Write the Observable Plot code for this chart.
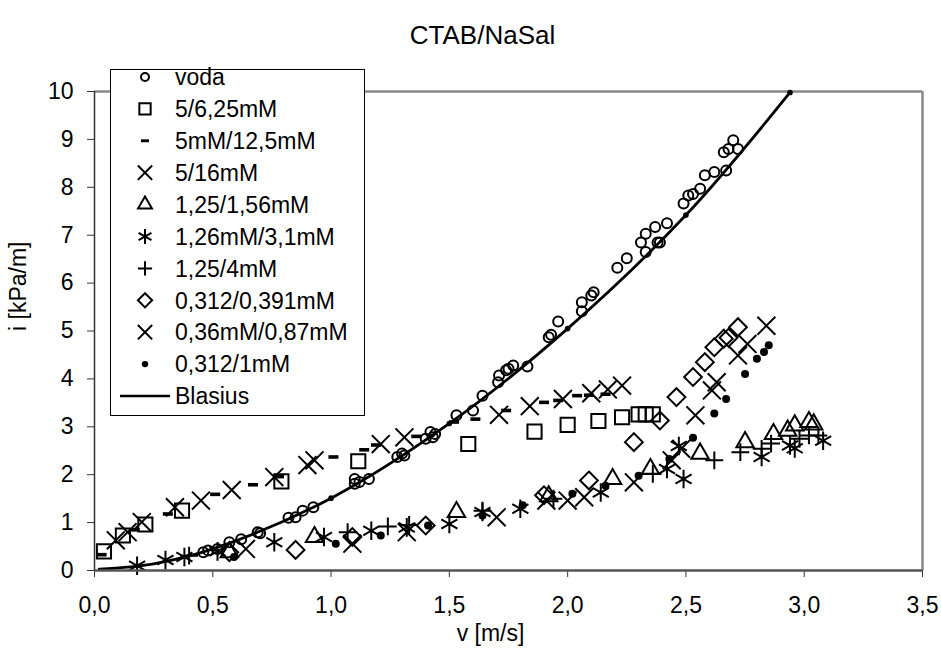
<!DOCTYPE html>
<html><head><meta charset="utf-8">
<script src="https://cdn.jsdelivr.net/npm/d3@7"></script>
<script src="https://cdn.jsdelivr.net/npm/@observablehq/plot@0.6"></script>
<style>
body{margin:0;background:#fff;}
#wrap{position:relative;width:941px;height:649px;font-family:"Liberation Sans",Arial,sans-serif;}
#wrap svg{position:absolute;left:0;top:0;}
</style></head><body><div id="wrap"></div>
<script>
// ---- data ----
const xTicks = [0, 0.5, 1, 1.5, 2, 2.5, 3, 3.5];
const yTicks = [0, 1, 2, 3, 4, 5, 6, 7, 8, 9, 10];

const vodaV = [0.46,0.48,0.52,0.57,0.62,0.69,0.70,0.82,0.85,0.88,0.925,1.10,1.10,1.12,1.16,1.28,1.30,1.31,1.40,1.42,1.43,1.44,1.53,1.60,1.64,1.706,1.71,1.74,1.75,1.77,1.83,1.92,1.93,1.96,2.06,2.06,2.10,2.11,2.21,2.25,2.31,2.33,2.33,2.37,2.38,2.39,2.42,2.49,2.51,2.53,2.56,2.58,2.62,2.67,2.66,2.68,2.70,2.72];
const vodaI = [0.38,0.42,0.45,0.59,0.65,0.80,0.78,1.10,1.11,1.25,1.32,1.91,1.81,1.85,1.91,2.37,2.44,2.40,2.75,2.89,2.78,2.85,3.24,3.34,3.65,3.93,4.07,4.18,4.21,4.28,4.26,4.87,4.92,5.20,5.41,5.60,5.74,5.81,6.32,6.52,6.85,7.03,6.65,7.17,6.85,6.85,7.25,7.66,7.83,7.86,7.97,8.25,8.32,8.35,8.73,8.80,8.98,8.80];

const s625V = [0.04,0.12,0.215,0.37,0.79,1.115,1.58,1.86,2.0,2.13,2.23,2.30,2.33,2.36];
const s625I = [0.40,0.73,0.96,1.25,1.86,2.28,2.64,2.90,3.04,3.12,3.20,3.26,3.26,3.26];

const s125V = [0.03,0.17,0.31,0.51,0.67,0.78,1.01,1.14,1.19,1.36,1.52,1.61,1.74,1.90,1.96,2.04,2.09,2.16];
const s125I = [0.33,0.85,1.18,1.59,1.79,1.96,2.37,2.52,2.62,2.80,3.10,3.16,3.34,3.51,3.55,3.65,3.66,3.68];

const s16V = [0.09,0.14,0.20,0.34,0.45,0.58,0.76,0.90,0.93,1.21,1.31,1.71,1.84,1.98,2.10,2.17,2.23];
const s16I = [0.63,0.80,1.01,1.32,1.46,1.68,1.95,2.20,2.30,2.64,2.78,3.25,3.43,3.58,3.70,3.78,3.86];

const s156V = [0.57,0.93,1.53,1.92,2.19,2.35,2.56,2.75,2.87,2.93,2.96,3.02,3.04];
const s156I = [0.38,0.70,1.22,1.55,1.91,2.12,2.44,2.68,2.85,2.92,3.03,3.10,3.05];

const s31V = [0.18,0.30,0.38,0.52,0.76,0.97,1.17,1.32,1.50,1.64,1.80,2.14,2.42,2.47,2.49,2.82,2.94,2.96,3.08];
const s31I = [0.10,0.22,0.28,0.40,0.59,0.70,0.83,0.90,0.97,1.22,1.29,1.63,2.12,2.60,1.91,2.37,2.61,2.55,2.71];

const s4V = [0.40,1.07,1.24,1.33,1.64,1.94,2.36,2.62,2.73,2.82,2.86,2.98,3.02,3.06];
const s4I = [0.31,0.80,0.92,0.95,1.25,1.50,2.02,2.30,2.47,2.54,2.65,2.75,2.82,2.82];

const s391V = [0.57,0.85,1.09,1.40,1.90,2.09,2.28,2.39,2.46,2.53,2.58,2.62,2.66,2.68,2.72];
const s391I = [0.38,0.43,0.70,0.94,1.57,1.88,2.68,3.13,3.62,4.04,4.35,4.66,4.84,4.86,5.08];

const s087V = [0.64,1.09,1.32,1.70,1.91,2.00,2.07,2.28,2.44,2.48,2.54,2.61,2.63,2.72,2.76,2.84];
const s087I = [0.45,0.56,0.80,1.11,1.46,1.46,1.53,1.84,2.30,2.54,3.24,3.76,3.93,4.49,4.73,5.11];

const s1V = [0.59,1.02,1.21,1.41,1.64,1.81,2.02,2.16,2.30,2.43,2.53,2.62,2.67,2.75,2.80,2.83,2.85];
const s1I = [0.28,0.56,0.73,0.94,1.15,1.36,1.60,1.77,1.98,2.33,2.77,3.28,3.58,4.10,4.42,4.56,4.70];

const blasiusV = [0.02,0.25,0.5,1.0,1.5,2.0,2.5,2.94];
const blasiusI = [0.03,0.14,0.45,1.51,3.07,5.05,7.42,9.98];

const names = ["voda","5/6,25mM","5mM/12,5mM","5/16mM","1,25/1,56mM","1,26mM/3,1mM","1,25/4mM","0,312/0,391mM","0,36mM/0,87mM","0,312/1mM","Blasius"];

// ---- build ----
const dashSymbol = {draw(ctx, size){const r = Math.sqrt(size/Math.PI); ctx.moveTo(-r,-0.36*r); ctx.lineTo(r,-0.36*r); ctx.lineTo(r,0.36*r); ctx.lineTo(-r,0.36*r); ctx.closePath();}};
const rows = (V, I) => V.map((v, k) => ({v, i: I[k]}));
const series = [
  {v: vodaV, i: vodaI, sym: "circle", r: 5, filled: false},
  {v: s625V, i: s625I, sym: "square2", r: 9, filled: false},
  {v: s125V, i: s125I, sym: dashSymbol, r: 5, filled: true},
  {v: s16V, i: s16I, sym: "times", r: 8.2, filled: false},
  {v: s156V, i: s156I, sym: "triangle2", r: 8.3, filled: false},
  {v: s31V, i: s31I, sym: "asterisk", r: 8.8, filled: false},
  {v: s4V, i: s4I, sym: "plus", r: 5.8, filled: false},
  {v: s391V, i: s391I, sym: "diamond2", r: 8, filled: false},
  {v: s087V, i: s087I, sym: "times", r: 8.2, filled: false},
  {v: s1V, i: s1I, sym: "circle", r: 4, filled: true}
];
const blasius = rows(blasiusV, blasiusI);
const fmt = d => d.toFixed(1).replace(".", ",");
const FONT = '"Liberation Sans", Arial, sans-serif';

const marks = [
  Plot.ruleY([10], {stroke: "#888", strokeWidth: 2.5}),
  Plot.ruleX([3.5], {stroke: "#888", strokeWidth: 2.5}),
  Plot.axisY({ticks: yTicks, tickSize: 7, tickPadding: 14, fontSize: 23, label: null, stroke: "#333"}),
  Plot.axisX({ticks: xTicks, tickSize: 7, tickPadding: 19, fontSize: 23, label: null, tickFormat: fmt, stroke: "#333"}),
  ...series.map(s => Plot.dot(rows(s.v, s.i), {x: "v", y: "i", symbol: s.sym, r: s.r,
      fill: s.filled ? "black" : "none", stroke: s.filled ? "none" : "black", strokeWidth: 2})),
  Plot.line(blasius, {x: "v", y: "i", curve: "catmull-rom", stroke: "black", strokeWidth: 2.8}),
  Plot.dot(blasius.slice(2), {x: "v", y: "i", r: 2.8, fill: "black"}),
  Plot.ruleY([0], {stroke: "#555", strokeWidth: 2.5}),
  Plot.ruleX([0], {stroke: "#333", strokeWidth: 1.5}),
  Plot.text(["CTAB/NaSal"], {frameAnchor: "top", dy: -66, dx: -26, fontSize: 26, fill: "black"}),
  Plot.text(["v [m/s]"], {frameAnchor: "bottom", dy: 70, dx: -18, fontSize: 23, fill: "black"}),
  Plot.text(["i [kPa/m]"], {frameAnchor: "left", dx: -76, rotate: -90, fontSize: 23, fill: "black"})
];

const chart = Plot.plot({
  width: 941, height: 649,
  marginLeft: 94, marginRight: 19, marginTop: 91, marginBottom: 79,
  x: {domain: [0, 3.5]},
  y: {domain: [0, 10]},
  style: {fontFamily: FONT, background: "white", color: "black", overflow: "visible"},
  marks
});
const wrap = document.getElementById("wrap");
wrap.appendChild(chart);

// ---- legend overlay ----
const lg = d3.select(wrap).append("svg").attr("width", 941).attr("height", 649).style("pointer-events", "none");
lg.append("rect").attr("x", 110.5).attr("y", 69.5).attr("width", 254).attr("height", 346)
  .attr("fill", "white").attr("stroke", "black").attr("stroke-width", 1);
const symMap = {circle: d3.symbolCircle, square2: d3.symbolSquare2, times: d3.symbolTimes, triangle2: d3.symbolTriangle2,
  asterisk: d3.symbolAsterisk, plus: d3.symbolPlus, diamond2: d3.symbolDiamond2};
names.forEach((n, k) => {
  const cy = 77 + k * 31.9;
  if (k < series.length) {
    const s = series[k];
    const t = typeof s.sym === "string" ? symMap[s.sym] : s.sym;
    const rr = s.r * 0.8;
    lg.append("path").attr("transform", `translate(145,${cy})`)
      .attr("d", d3.symbol(t, Math.PI * rr * rr)())
      .attr("fill", s.filled ? "black" : "none").attr("stroke", s.filled ? "none" : "black").attr("stroke-width", 2);
  } else {
    lg.append("line").attr("x1", 120).attr("x2", 170).attr("y1", cy).attr("y2", cy).attr("stroke", "black").attr("stroke-width", 2.5);
  }
  lg.append("text").attr("x", 175).attr("y", cy).attr("dy", "0.36em").attr("font-size", 23)
    .attr("font-family", FONT).attr("fill", "black").text(n);
});
</script></body></html>
